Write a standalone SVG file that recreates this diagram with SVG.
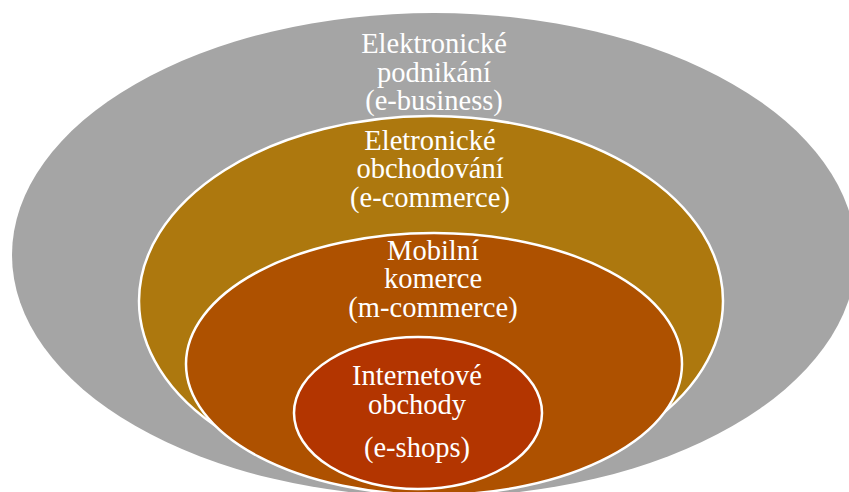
<svg xmlns="http://www.w3.org/2000/svg" width="849" height="492" viewBox="0 0 849 492">
<style>
text{font-family:'Liberation Serif','Times New Roman',serif;font-size:28.5px;fill:#FFFFFF;text-anchor:middle}
.ring{stroke:#FFFFFF;stroke-width:2.5}
</style>
<rect x="0" y="0" width="849" height="492" fill="#FFFFFF"/>
<g id="connectors"></g>
<g id="e-business">
<ellipse cx="434" cy="255" rx="422" ry="242" fill="#A5A5A5"/>
<text x="434" y="53">Elektronické</text>
<text x="434" y="82">podnikání</text>
<text x="434" y="110">(e-business)</text>
</g>
<g id="e-commerce">
<ellipse class="ring" cx="431" cy="301" rx="292" ry="185" fill="#AD780E"/>
<text x="430" y="150">Eletronické</text>
<text x="430" y="178">obchodování</text>
<text x="430" y="207">(e-commerce)</text>
</g>
<g id="m-commerce">
<ellipse class="ring" cx="434" cy="364" rx="248" ry="131" fill="#AE5100"/>
<text x="433" y="260">Mobilní</text>
<text x="433" y="288">komerce</text>
<text x="433" y="317">(m-commerce)</text>
</g>
<g id="e-shops">
<ellipse class="ring" cx="418" cy="413" rx="124" ry="76" fill="#B33500"/>
<text x="417" y="385">Internetové</text>
<text x="417" y="414">obchody</text>
<text x="417" y="457">(e-shops)</text>
</g>
</svg>
